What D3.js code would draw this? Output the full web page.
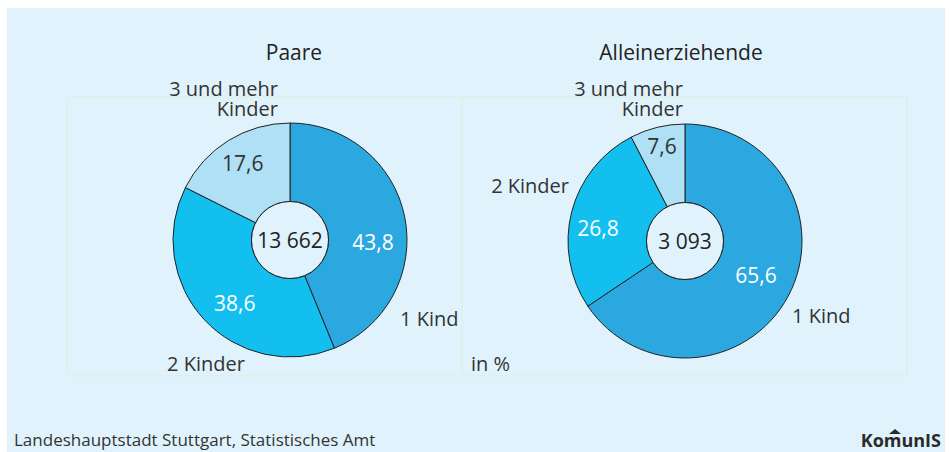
<!DOCTYPE html>
<html>
<head>
<meta charset="utf-8">
<script src="https://cdn.jsdelivr.net/npm/d3@7"></script>
<style>
  body { margin: 0; background: #fff; }
  svg text { font-family: "Open Sans", "Noto Sans", sans-serif; fill: #333; }
</style>
</head>
<body>
<svg id="chart" width="952" height="452"></svg>
<script>
// data
var categories = ["1 Kind", "2 Kinder", "3 und mehr Kinder"];
var paareValues = [43.8, 38.6, 17.6];
var alleinValues = [65.6, 26.8, 7.6];
var totals = ["13 662", "3 093"];
var titles = ["Paare", "Alleinerziehende"];

var colors = ["#2ba8df", "#13bfef", "#b0e0f6"];
var valueColors = ["#fff", "#fff", "#333"];

var svg = d3.select("#chart");
var bg = "#e0f3fc";

svg.append("rect").attr("x", 7).attr("y", 8).attr("width", 938).attr("height", 444).attr("fill", bg);

// inner panels
var panelLine = "#daf2e6";
svg.append("rect").attr("x", 67).attr("y", 97).attr("width", 840).attr("height", 279)
    .attr("fill", "none").attr("stroke", panelLine).attr("stroke-width", 1.5);
svg.append("line").attr("x1", 462).attr("x2", 462).attr("y1", 97).attr("y2", 376)
    .attr("stroke", panelLine).attr("stroke-width", 1.5);

// label placement: radius and angle nudge (deg) per slice
var charts = [
    {values: paareValues, cx: 290, cy: 240, title: titles[0], titleX: 294, total: totals[0],
     valueR: [83, 84, 90], valueNudge: [13, -6, 0],
     labels: [
        {lines: ["1 Kind"], x: 400, y: 326, anchor: "start"},
        {lines: ["2 Kinder"], x: 167, y: 371, anchor: "start"},
        {lines: ["3 und mehr", "Kinder"], x: 278, y: 96, anchor: "end"}
     ]},
    {values: alleinValues, cx: 685, cy: 241, title: titles[1], titleX: 681, total: totals[1],
     valueR: [79, 88, 97], valueNudge: [-2, -6, 0],
     labels: [
        {lines: ["1 Kind"], x: 792, y: 323, anchor: "start"},
        {lines: ["2 Kinder"], x: 569, y: 193, anchor: "end"},
        {lines: ["3 und mehr", "Kinder"], x: 683, y: 96, anchor: "end"}
     ]}
];

var rOuter = 117, rInner = 38.5;
var pie = d3.pie().sort(null).value(function(d){ return d; });
var arc = d3.arc().innerRadius(rInner).outerRadius(rOuter);

charts.forEach(function(c){
    var g = svg.append("g").attr("transform", "translate(" + c.cx + "," + c.cy + ")");
    var arcs = pie(c.values);

    g.selectAll(".slice").data(arcs).enter().append("path")
        .attr("class", "slice")
        .attr("d", arc)
        .attr("fill", function(d, i){ return colors[i]; })
        .attr("stroke", "#222")
        .attr("stroke-width", 1);

    g.append("circle").attr("r", rInner).attr("fill", bg).attr("stroke", "#222").attr("stroke-width", 1);

    g.append("text").attr("text-anchor", "middle").attr("dy", "0.36em")
        .style("font-size", "21px").style("font-weight", 500).style("fill", "#222")
        .text(c.total);

    g.selectAll(".val").data(arcs).enter().append("text")
        .attr("class", "val")
        .attr("text-anchor", "middle")
        .attr("dy", "0.36em")
        .attr("transform", function(d, i){
            var a = (d.startAngle + d.endAngle) / 2 + c.valueNudge[i] * Math.PI / 180, r = c.valueR[i];
            return "translate(" + (Math.sin(a) * r) + "," + (-Math.cos(a) * r) + ")";
        })
        .style("font-size", "21px")
        .style("fill", function(d, i){ return valueColors[i]; })
        .text(function(d){ return String(d.data).replace(".", ","); });

    svg.append("text").attr("x", c.titleX).attr("y", 60).attr("text-anchor", "middle")
        .style("font-size", "21px").style("font-weight", 500).style("fill", "#222")
        .text(c.title);

    // two-line labels as separate texts
    c.labels.forEach(function(l){
        l.lines.forEach(function(s, k){
            svg.append("text").attr("x", l.x).attr("y", l.y + k * 20)
                .attr("text-anchor", l.anchor).style("font-size", "20px")
                .text(s);
        });
    });
});

svg.append("text").attr("x", 471).attr("y", 371).style("font-size", "20px").text("in %");

svg.append("text").attr("x", 14).attr("y", 446).style("font-size", "17px")
    .text("Landeshauptstadt Stuttgart, Statistisches Amt");

// logo
var logo = svg.append("g");
logo.append("text").attr("x", 941).attr("y", 447).attr("text-anchor", "end")
    .style("font-size", "18px").style("font-weight", 700).style("fill", "#2a2a2a")
    .text("KomunIS");
logo.append("path").attr("d", "M889,434 L895,429 L901,434 Z").attr("fill", "#2a2a2a");
</script>
</body>
</html>
